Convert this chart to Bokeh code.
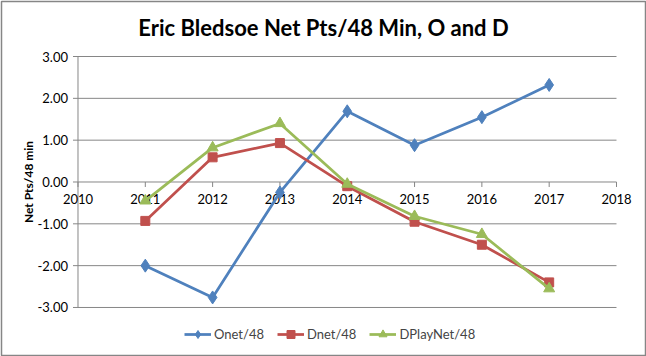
import math
from bokeh.plotting import figure
from bokeh.models import Range1d, Legend, LegendItem, ColumnDataSource
from bokeh.embed import file_html
from bokeh.resources import INLINE
from bokeh.core.properties import value

years = [2011, 2012, 2013, 2014, 2015, 2016, 2017]
onet = [-2.00, -2.76, -0.25, 1.69, 0.88, 1.55, 2.32]
dnet = [-0.93, 0.59, 0.93, -0.10, -0.95, -1.50, -2.40]
dplay = [-0.45, 0.82, 1.40, -0.05, -0.82, -1.25, -2.55]
x_ticks = [2010, 2011, 2012, 2013, 2014, 2015, 2016, 2017, 2018]
x_labels = ["2010", "2011", "2012", "2013", "2014", "2015", "2016", "2017", "2018"]
y_ticks = [-3, -2, -1, 0, 1, 2, 3]
y_labels = ["-3.00", "-2.00", "-1.00", "0.00", "1.00", "2.00", "3.00"]
title = "Eric Bledsoe Net Pts/48 Min, O and D"
y_title = "Net Pts/48 min"

FONT = "Lato"
GRAY = "#868686"

# frame spans the whole canvas (inset by 1px for the outer border);
# range padding leaves room for title, tick labels and legend
x_lo, x_hi = x_ticks[0], x_ticks[-1]
y_lo, y_hi = y_ticks[0], y_ticks[-1]
xr = Range1d(x_lo - 1.1365, x_hi + 0.431)
yr = Range1d(y_lo - 1.148, y_hi + 1.315)

p = figure(width=646, height=356, output_backend="svg", toolbar_location=None,
           x_range=xr, y_range=yr, x_axis_location=None, y_axis_location=None,
           min_border_left=1, min_border_right=1, min_border_top=1, min_border_bottom=1)
p.outline_line_color = GRAY
p.outline_line_width = 1.5
p.background_fill_color = "white"
p.border_fill_color = "white"
p.grid.visible = False

# horizontal gridlines (the 0 line doubles as the x axis)
p.segment(x0=[x_lo] * len(y_ticks), y0=y_ticks, x1=[x_hi] * len(y_ticks), y1=y_ticks,
          line_color=GRAY, line_width=1)
# y axis line and ticks
p.segment(x0=[x_lo], y0=[y_lo], x1=[x_lo], y1=[y_hi], line_color=GRAY, line_width=1)
p.ray(x=[x_lo] * len(y_ticks), y=y_ticks, length=5, length_units="screen",
      angle=math.pi, line_color=GRAY, line_width=1)
# x ticks at y = 0
p.ray(x=x_ticks, y=[0] * len(x_ticks), length=5, length_units="screen",
      angle=-math.pi / 2, line_color=GRAY, line_width=1)

# tick labels
p.text(x=x_ticks, y=[0] * len(x_ticks), text=x_labels, text_align="center",
       text_baseline="middle", y_offset=17, text_font=value(FONT),
       text_font_size="13px", text_color="#000000")
p.text(x=[x_lo] * len(y_ticks), y=y_ticks, text=y_labels, text_align="right",
       text_baseline="middle", x_offset=-10, text_font=value(FONT),
       text_font_size="13px", text_color="#000000")

# axis title and chart title
p.text(x=[x_lo - 0.735], y=[(y_lo + y_hi) / 2], text=[y_title], angle=math.pi / 2,
       text_align="center", text_baseline="middle", text_font=value(FONT),
       text_font_size="12px", text_font_style="bold", text_color="#000000")
p.text(x=[(xr.start + xr.end) / 2], y=[y_hi + 0.69], text=[title], text_align="center",
       text_baseline="middle", text_font=value(FONT), text_font_size="22px",
       text_font_style="bold", text_color="#000000")

series = [
    ("Onet/48", onet, "#4F81BD", "diamond", 13),
    ("Dnet/48", dnet, "#C0504D", "square", 9),
    ("DPlayNet/48", dplay, "#9BBB59", "triangle", 11),
]
items = []
for name, vals, color, marker, size in series:
    l = p.line(years, vals, line_color=color, line_width=2.75)
    s = p.scatter(years, vals, marker=marker, size=size, fill_color=color, line_color=color)
    items.append(LegendItem(label=name, renderers=[l, s]))

legend = Legend(items=items, orientation="horizontal", location=(183, 11),
                label_text_font=FONT, label_text_font_size="13px",
                border_line_color=None, background_fill_alpha=0,
                glyph_width=27, glyph_height=20, label_height=20,
                spacing=13, label_standoff=3, padding=0, margin=0)
p.add_layout(legend)

open("out.html", "w").write(file_html(p, INLINE))
